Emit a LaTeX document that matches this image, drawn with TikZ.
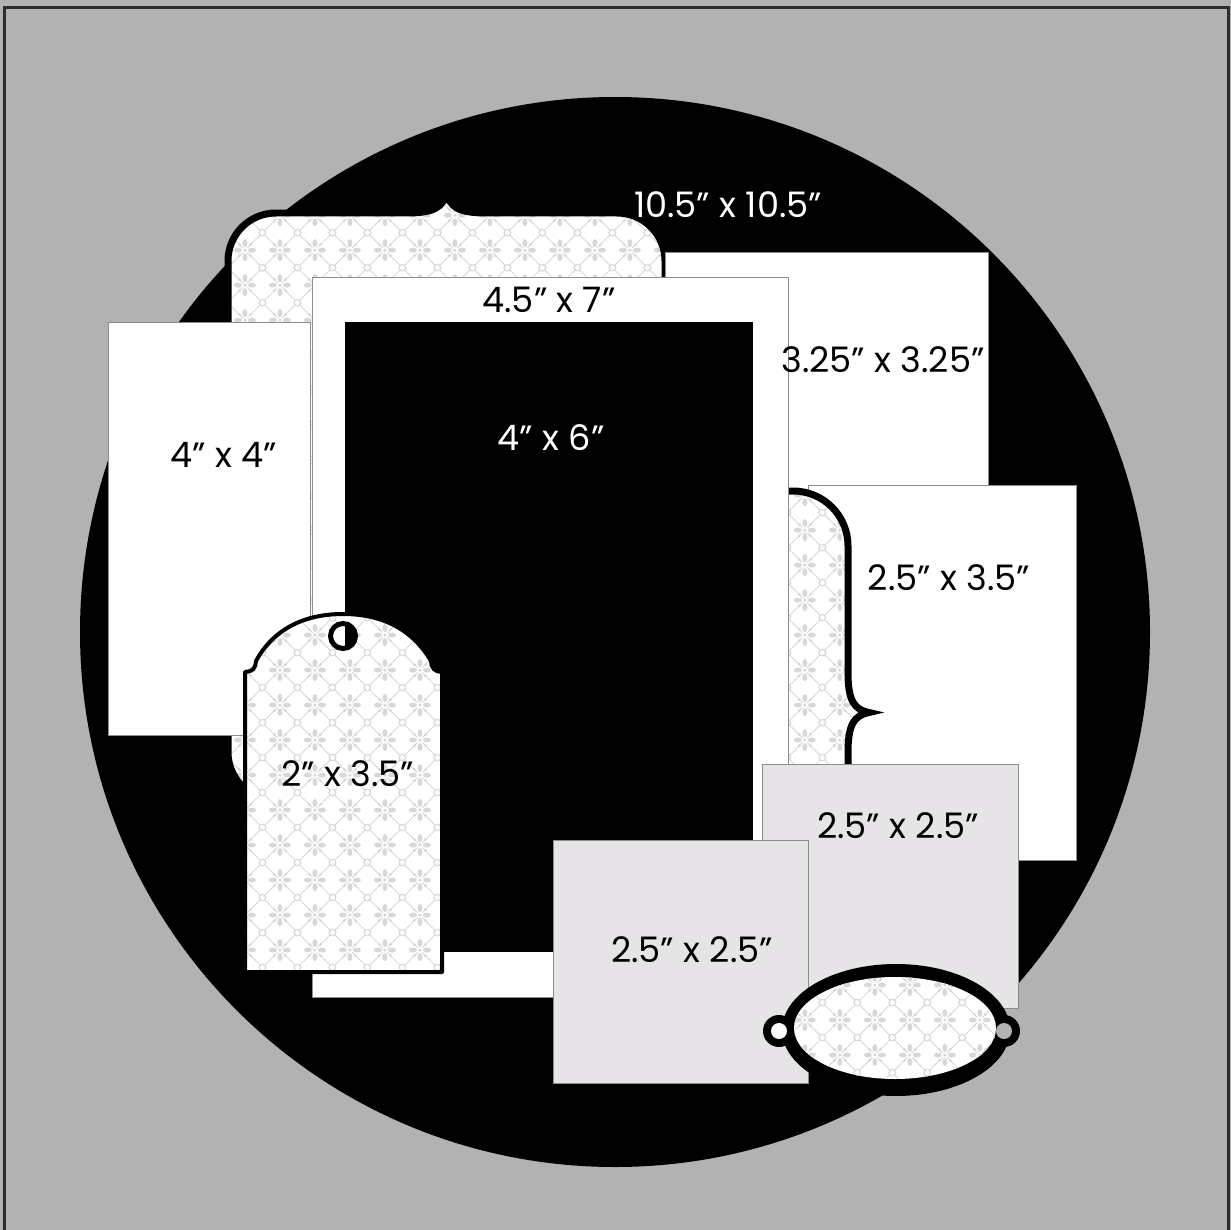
\documentclass[tikz,border=0pt]{standalone}
\usepackage{fontspec}
\setmainfont{Poppins}
\usetikzlibrary{patterns.meta}
\definecolor{bgc}{RGB}{178,178,178}
\definecolor{lgc}{RGB}{230,228,230}
\definecolor{patc}{RGB}{216,216,216}
\definecolor{edgec}{RGB}{140,140,140}
\definecolor{borderc}{RGB}{45,45,45}

\tikzdeclarepattern{
  name=floral, type=colored,
  bottom left={(-.35cm,-.35cm)}, top right={(.35cm,.35cm)},
  tile size={(.7cm,.7cm)},
  code={
    \draw[patc,line width=.5pt] (-.35cm,-.35cm) -- (.35cm,.35cm) (-.35cm,.35cm) -- (.35cm,-.35cm);
    \fill[patc] (0cm,.14cm) ellipse (.05cm and .08cm) (0cm,-.14cm) ellipse (.05cm and .08cm)
                (.14cm,0cm) ellipse (.08cm and .05cm) (-.14cm,0cm) ellipse (.08cm and .05cm);
    \fill[patc] (.11cm,.11cm) circle (.03cm) (-.11cm,.11cm) circle (.03cm)
                (.11cm,-.11cm) circle (.03cm) (-.11cm,-.11cm) circle (.03cm);
    \fill[white] (0cm,0cm) circle (.065cm);
    \fill[patc] (0cm,0cm) circle (.035cm);
    \draw[patc,line width=.7pt,fill=white] (.35cm,.35cm) circle (.065cm);
    \draw[patc,line width=.7pt,fill=white] (-.35cm,.35cm) circle (.065cm);
    \draw[patc,line width=.7pt,fill=white] (.35cm,-.35cm) circle (.065cm);
    \draw[patc,line width=.7pt,fill=white] (-.35cm,-.35cm) circle (.065cm);
  }
}

% bracket frame: L T R B r
\newcommand\bframepath[5]{%
  \pgfmathsetmacro\bmx{(#1+#3)/2}\pgfmathsetmacro\bmy{(#2+#4)/2}%
  \draw[bframe] (#1,#2+#5) to[out=90,in=180] (#1+#5,#2)
    -- (\bmx-40,#2) .. controls (\bmx-12,#2) and (\bmx-3,#2-6) .. (\bmx,#2-21)
    .. controls (\bmx+3,#2-6) and (\bmx+12,#2) .. (\bmx+40,#2)
    -- (#3-#5,#2) to[out=0,in=90] (#3,#2+#5)
    -- (#3,\bmy-40) .. controls (#3,\bmy-12) and (#3+6,\bmy-3) .. (#3+21,\bmy)
    .. controls (#3+6,\bmy+3) and (#3,\bmy+12) .. (#3,\bmy+40)
    -- (#3,#4-#5) to[out=270,in=0] (#3-#5,#4)
    -- (\bmx+40,#4) .. controls (\bmx+12,#4) and (\bmx+3,#4+6) .. (\bmx,#4+21)
    .. controls (\bmx-3,#4+6) and (\bmx-12,#4) .. (\bmx-40,#4)
    -- (#1+#5,#4) to[out=180,in=270] (#1,#4-#5)
    -- (#1,\bmy+40) .. controls (#1,\bmy+12) and (#1-6,\bmy+3) .. (#1-21,\bmy)
    .. controls (#1-6,\bmy-3) and (#1,\bmy-12) .. (#1,\bmy-40) -- cycle;
}

\begin{document}
\begin{tikzpicture}[x=0.02cm,y=-0.02cm,
  pat/.style={preaction={fill=white}, pattern=floral},
  bframe/.style={pat, draw=black, line width=0.14cm},
  card/.style={fill=white, draw=edgec, line width=0.5pt},
  gcard/.style={fill=lgc, draw=edgec, line width=0.5pt},
  lbl/.style={font=\fontsize{20}{24}\selectfont, inner sep=0pt}]
\useasboundingbox (0,0) rectangle (1231,1230);
\fill[bgc] (0,0) rectangle (1231,1230);
\draw[borderc, line width=0.06cm] (4.5,7.5) rectangle (1228.5,1245);

% big circle
\fill[black] (615,632) circle (535);

% top-left bracket frame
\bframepath{228}{213}{665}{800}{48}

% 3.25 square and 2.5 x 3.5
\draw[card] (665,252) rectangle (988,500);
\draw[card] (808,485) rectangle (1076,860);

% right bracket frame
\bframepath{520}{491}{848}{934}{55}

% 4x4 and 4.5x7
\draw[card] (108,322) rectangle (310,735);
\draw[card] (312,277) rectangle (788,997);
\fill[black] (345,322) rectangle (753,952);

% 2.5 x 2.5 cards
\draw[gcard] (762,764) rectangle (1018,1008);
\draw[gcard] (553,840) rectangle (808,1083);

% tag
\draw[pat, draw=black, line width=0.08cm, line join=round]
  (245,972) -- (245,672) .. controls (252,672) and (256,668) .. (256,661)
  .. controls (273,630) and (303,614) .. (343,614)
  .. controls (383,614) and (413,630) .. (431,661)
  .. controls (431,668) and (435,672) .. (442,672) -- (442,972) -- cycle;
\begin{scope}
  \clip (343,636) circle (11);
  \fill[white] (325,620) rectangle (345,655);
  \fill[black] (345,620) rectangle (362,655);
\end{scope}
\draw[black, line width=0.1cm] (343,636) circle (12.5);

% oval label
\fill[black] (896,1030) ellipse (114 and 66);
\fill[black] (779,1031) circle (16);
\fill[black] (1004,1031) circle (16);
\fill[white] (779,1031) circle (8);
\fill[bgc] (1004,1031) circle (8);
\path[pat] (895,1028) ellipse (101 and 51);

% labels
\node[lbl, text=white] (t105) at (728,205) {10.5" x 10.5"};
\node[lbl] (t325) at (883,360) {3.25" x 3.25"};
\node[lbl] (t2535) at (949,578) {2.5" x 3.5"};
\node[lbl] (t44) at (224,455) {4" x 4"};
\node[lbl] (t457) at (549,300) {4.5" x 7"};
\node[lbl, text=white] (t46) at (551,438) {4" x 6"};
\node[lbl] (t25a) at (898,826) {2.5" x 2.5"};
\node[lbl] (t25b) at (692,950) {2.5" x 2.5"};
\node[lbl] (t235) at (348,774) {2" x 3.5"};
\end{tikzpicture}
\end{document}
